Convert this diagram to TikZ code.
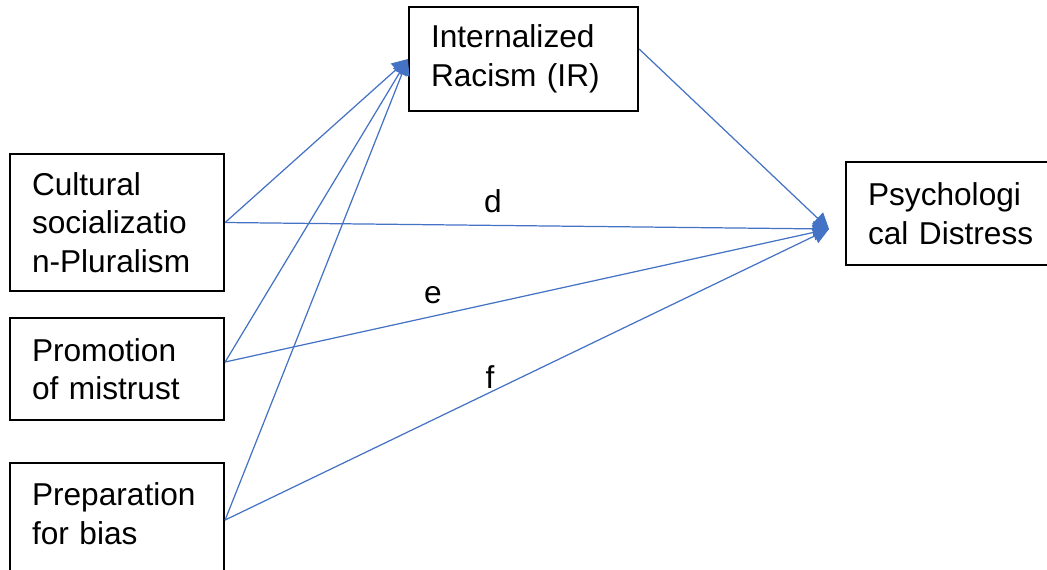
\documentclass[tikz,border=0pt]{standalone}
\usepackage{fontspec}
\setmainfont{Liberation Sans}
\usetikzlibrary{positioning,arrows.meta}
\definecolor{linkcol}{RGB}{68,114,196}

\begin{document}
\begin{tikzpicture}[x=0.02cm,y=-0.02cm,
  vbox/.style={rectangle,draw=black,line width=1.3pt,
               inner xsep=0.44cm,inner ysep=0pt,align=left,
               font=\fontsize{18}{21.9}\selectfont},
  lbl/.style={font=\fontsize{18}{21.9}\selectfont},
  arr/.style={-{Triangle[length=9pt,width=9pt]},line width=0.7pt,linkcol},
  >=Stealth
]
\useasboundingbox (0,0) rectangle (1047,569);
\clip (0,0) rectangle (1047,569);
\node[vbox,text width=3.7cm,minimum height=2.08cm] (ir) at (523.5,59)
  {Internalized\\Racism (IR)};
\node[vbox,text width=3.4cm,minimum height=2.06cm] (psy) at (953,213.5)
  {Psychologi\\cal Distress};
\node[vbox,text width=3.4cm,minimum height=2.74cm] (cult) at (117,222.5)
  {Cultural\\socializatio\\n-Pluralism};
\node[vbox,text width=3.4cm,minimum height=2.04cm] (prom) at (117,369)
  {Promotion\\of mistrust};
\node[vbox,text width=3.4cm,minimum height=2.28cm,text depth=29.3pt] (prep) at (117,520)
  {Preparation\\for bias};
\coordinate (psin) at (829,229);
\draw[arr] (cult.east)--(ir.west);
\draw[arr] ([yshift=0.14cm]prom.east)--(ir.west);
\draw[arr] (prep.east)--(ir.west);
\draw[arr] ([yshift=0.2cm]ir.east)--(psin);
\draw[arr] (cult.east)--(psin);
\draw[arr] ([yshift=0.14cm]prom.east)--(psin);
\draw[arr] (prep.east)--(psin);
\node[lbl] (d) at (493,201) {d};
\node[lbl] (e) at (433,295) {e};
\node[lbl] (f) at (490,377) {f};
\end{tikzpicture}
\end{document}
